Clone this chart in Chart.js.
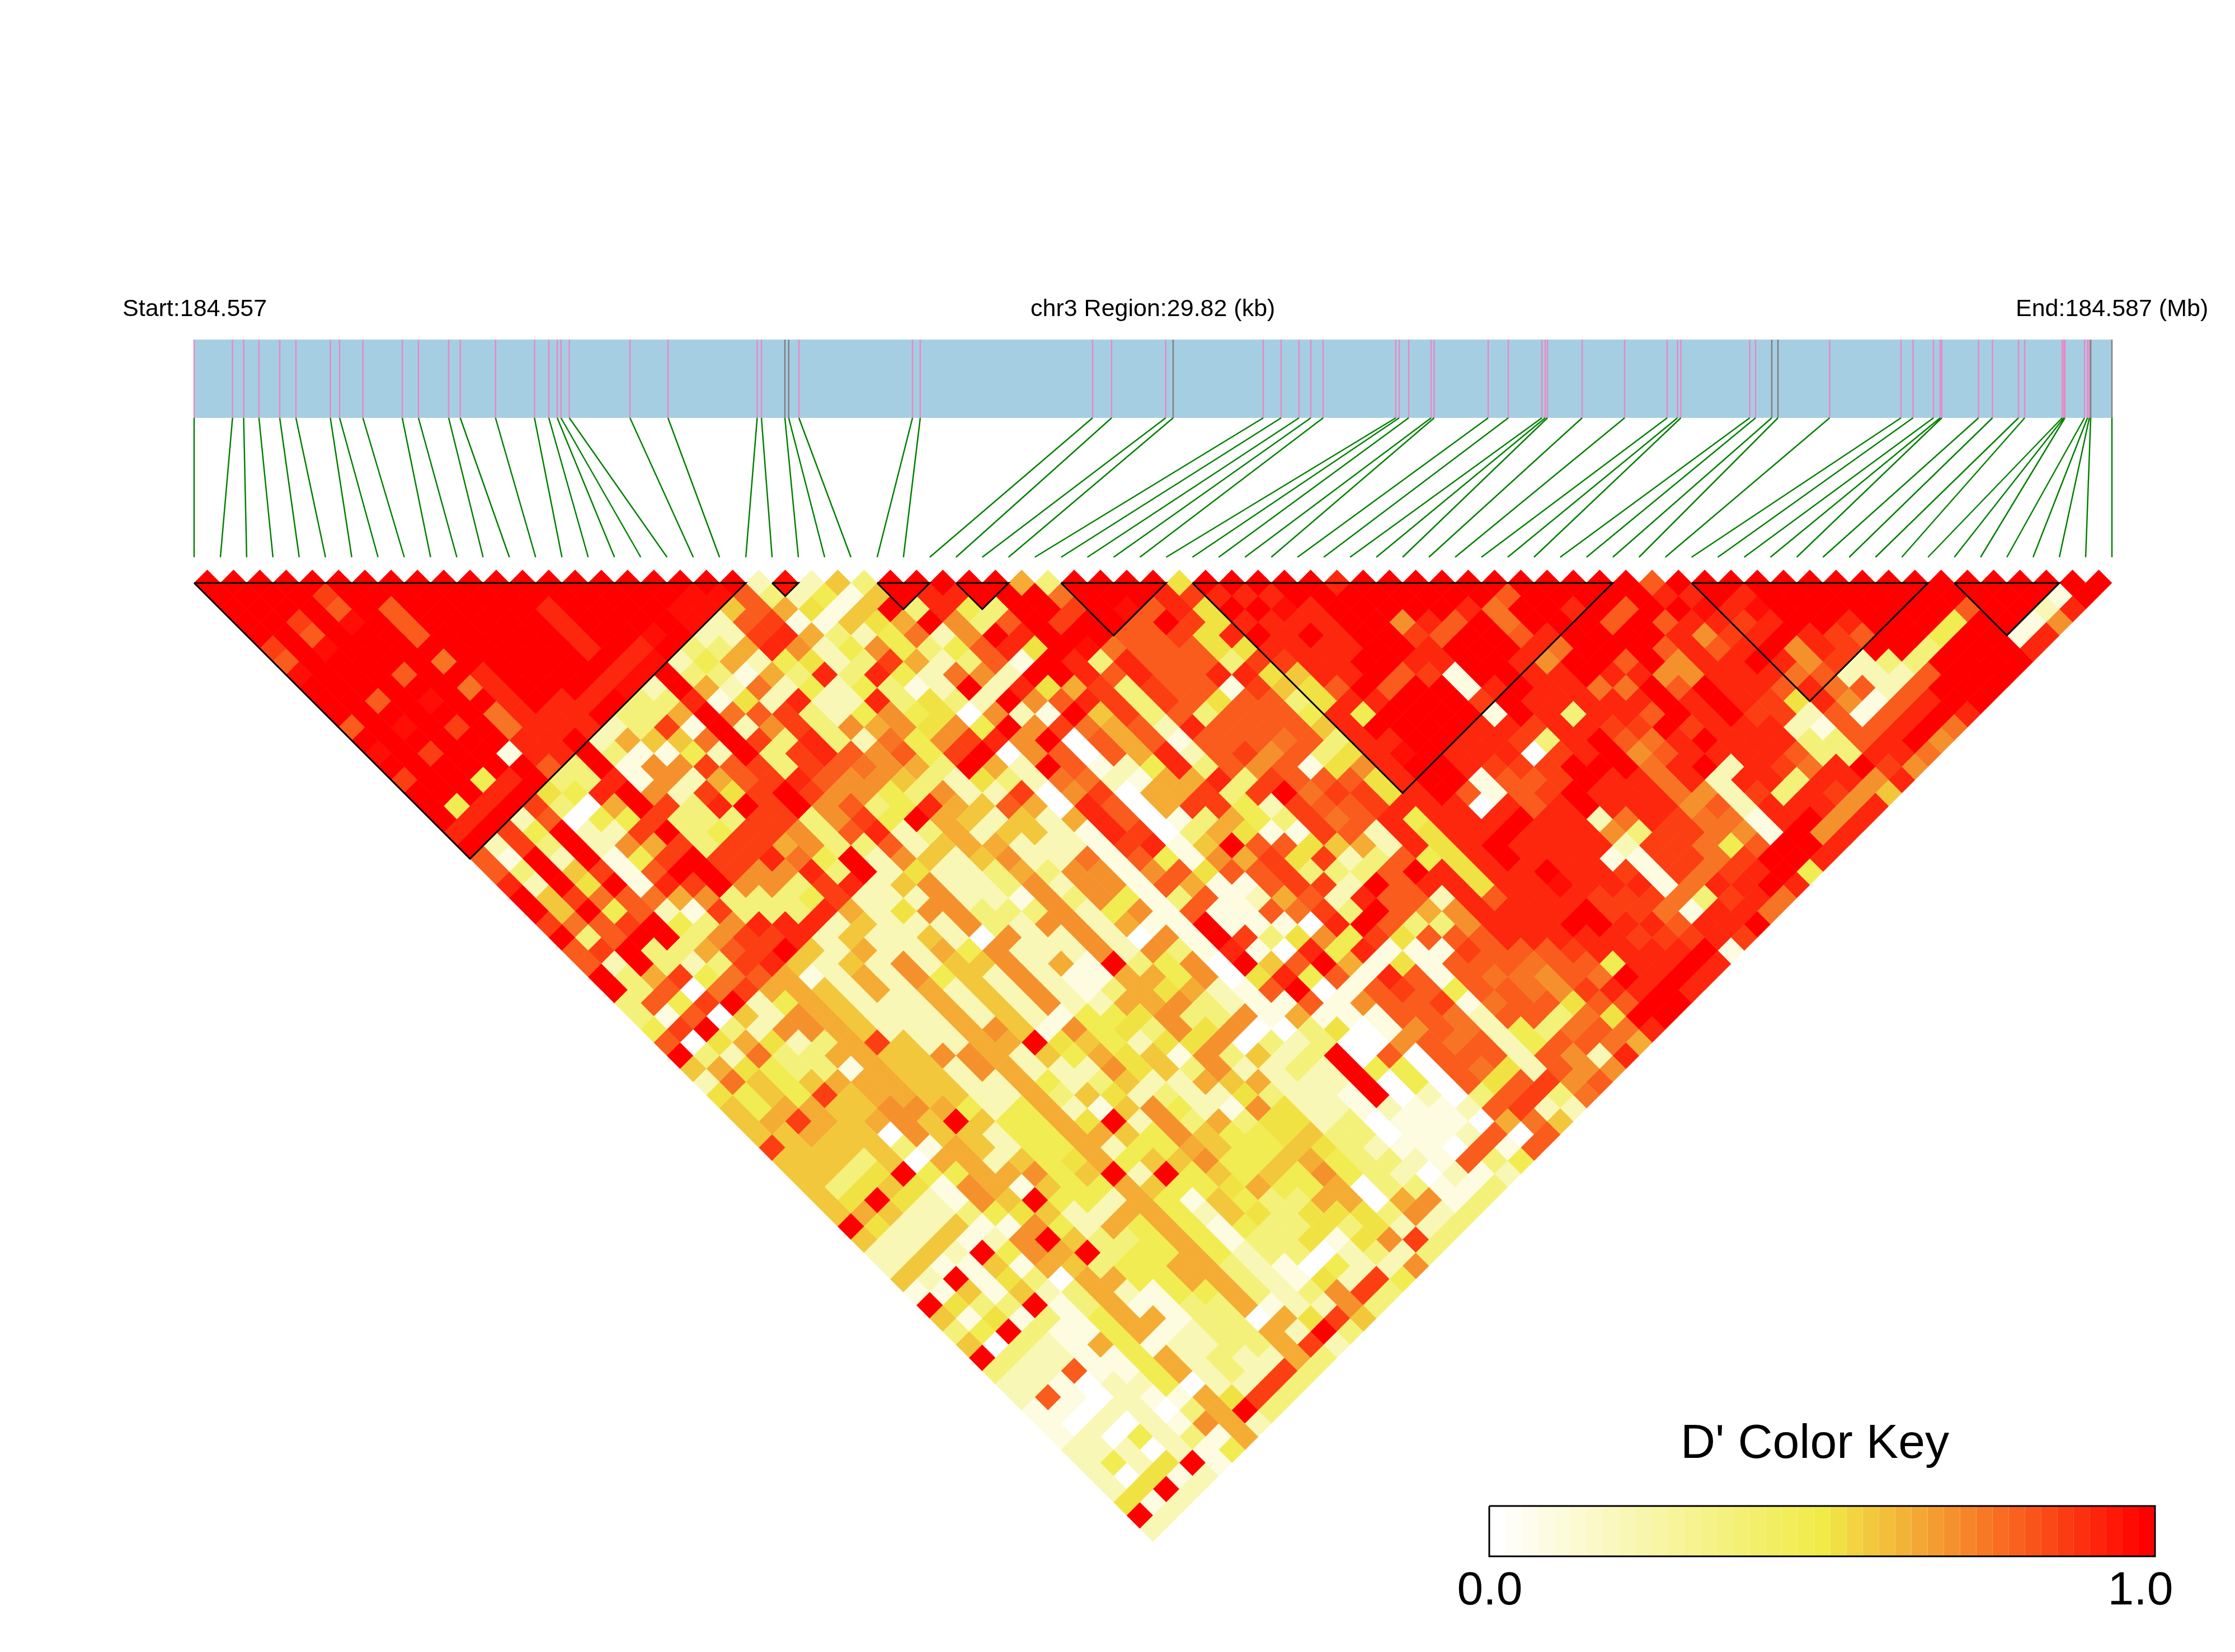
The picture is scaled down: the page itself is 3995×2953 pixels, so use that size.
<!DOCTYPE html>
<html>
<head>
<meta charset="utf-8">
<title>LD heatmap</title>
<script src="https://cdn.jsdelivr.net/npm/chart.js@4"></script>
<style>
  body { margin: 0; background: #fff; }
  canvas { display: block; }
</style>
</head>
<body>
<canvas id="myChart" width="3995" height="2953"></canvas>
<script>
// SNP positions along the region, in kb from the start
const snpKb = [
  0, 0.597, 0.77, 1.008, 1.331, 1.583, 2.118, 2.262, 2.624, 3.236, 3.488, 3.958, 4.138, 4.686, 5.292,
  5.515, 5.646, 5.704, 5.834, 6.777, 7.368, 8.755, 8.821, 9.186, 9.245, 9.404, 11.17, 11.291, 13.97,
  14.266, 15.107, 15.223, 16.624, 16.902, 17.18, 17.363, 17.555, 18.685, 18.738, 18.885, 19.234, 19.281,
  20.121, 20.434, 20.956, 21.008, 21.043, 21.582, 22.243, 22.904, 23.065, 23.117, 24.188, 24.279, 24.531,
  24.627, 25.431, 26.54, 26.727, 27.045, 27.149, 27.175, 27.746, 27.963, 28.367, 28.463, 29.046, 29.072,
  29.089, 29.394, 29.44, 29.469, 29.49, 29.82,
];
const greySnps = [23, 24, 31, 54, 55, 72, 73];
const regionKb = 29.82;

// haplotype blocks, as first and last SNP
const blockStart = [0, 22, 26, 29, 33, 38, 57, 67];
const blockEnd = [21, 23, 28, 31, 37, 54, 66, 71];

// D' level codes and what they stand for
const levelCodes = "0123456789abcde";
const levelValues = [0, 0.08, 0.2, 0.36, 0.47, 0.52, 0.58, 0.64, 0.7, 0.76, 0.81, 0.87, 0.92, 0.97, 1];

// D': one string per row of the triangle, from the top row down
const dprimeRows = [
  "eeeee eeeee eeeee eeeee e2d26 3eeee e73ee ee5ee eeece eeeee eeeee aeeee eeeee eeeee eee",
  "eeeeb eeeee eeeee eeedd a3241 6ecce ee9ee ecbcc ceeee eeeea eeeee ccece eeeee eeeee 1e",
  "eeeea eaeee eecee eedd6 a7516 e3c43 eebed ac5ee dceee eec9e eceae edcde eeeee eaee2 c",
  "eebed eaeee eecee eed2a b1165 7e83a ebeea eb5cc ccee8 cae9e eeaea ccbce eceee 4ee18",
  "eeaee eaeee eecee de22b c7324 928ec eeeaa b5cec eceeb aeeac eeeec 8bcec baee4 ee1c",
  "bedee eeeee eecec e337c 82484 34ac5 ed9aa a55cc cceec eeec9 eeeac ace8c bee3e eec",
  "aeeee e9eee eeecd 24724 523b7 23a1e c3caa a3bbc ceecc eec8e eae8c cec8b 233ee ee",
  "deeea eecee eecde 33173 c3c42 982ee cacaa cc56c ceab1 eecce cc88c cc9a2 22aee e",
  "eeeee e9cee ecd2e 72924 24312 e2c57 b3baa 1b65a eaee1 cecc9 9eaec cac9a 2aeee",
  "eeaed eecec ce33c 152c2 2c353 2e8ac b3ba5 aa35c ceeeb ecccc cecec b5c81 acee",
  "eeeee e9ccc e337e 9ab32 48450 821e6 b3a3a aa4c4 eeee1 ec3cc aeceb b2a1a cec",
  "aedeb e9ccc 23b1e 28b38 78584 e8b97 a2caa aa6ce eeecc bccbb ebccc 21aac e9",
  "eeeee ecce2 7669e b3c32 948bc 8e0a7 a1aaa 9a3cc eeccb 3cea9 ceccc 33ace 8",
  "debee 1cce3 1142e 3bca8 a4be0 8a0a7 c2ab8 a35cd eccc0 bce8a cccca 33cc9",
  "eeeee ea3e1 88bab 3ba98 73e72 ea124 c3a8a 158ce ecbbb eee9c e2cb9 ceb8",
  "bee4c e33c1 827ab ca886 32532 99217 7c3ba aa5ce e1aab ecc9c 2cc3c c8c",
  "eeece 54ce8 2b5be b8843 822b0 8b077 b3be9 bb5ce a1abe ccc98 2b3cb 86",
  "e4ceb 307eb 3cebe 8a34c 76a70 ca07b b42ba abccc 0cace ccc8a 2ccc8 c",
  "ece2a 044b3 33bb3 8b4e7 62627 ca013 743b9 ac4cc cecc2 9cb99 1ce8c",
  "ceb4e 22be3 4bb83 ac237 26621 cb037 511ba 2c5cc eccc8 3bb98 1e8c",
  "e2b3e 287b3 bb783 3a267 72221 bc16e aa567 2c5ce cccc2 bb94a eec",
  "a1e2e 14beb bc94e 28626 82291 a4187 b5b23 a45ce ccc11 bb9be ec",
  "a3e6b 1aeeb 88c3e 25223 73881 8a5aa b333a ec5cc eccb1 b9bce 4",
  "c2e5e 1cbe8 83bc2 68223 82881 a711a bb2ea cc5cc dccc1 9ccec",
  "e6b9a 97833 34b22 28221 83841 3a127 a2caa 2cacc cbbb9 3bc9",
  "e6e4a 21b33 3c725 88333 82481 a11a9 b3ea7 8cccc ebb91 cc9",
  "b9abe 438cc c2622 28328 82711 e1110 cea33 8ccce eccac ce",
  "e3aee 38bbc 26226 20822 82081 eb358 4b5aa acccc cbbbc b",
  "abe33 7abe6 27227 48222 82831 c10c4 c111b aaabc ccce1",
  "a2e32 3bc62 62826 68271 e3480 e6ae7 151aa a9aa4 ccec",
  "e37b4 9a712 72846 28211 77480 5c4a1 ca1a9 98a9e cec",
  "e3a09 b7762 72726 28213 75721 ae01a ba4aa 98bcc ec",
  "3a4be 24762 22726 28227 78321 1a18a ab19a a5aae e",
  "31a06 28762 22726 21445 83381 7111a a92aa 395ee",
  "4be32 88762 22786 18453 85800 35018 a9243 9a9c",
  "a0575 237b6 2277e 56425 58032 3008a 9a24a a97",
  "e3293 37766 88726 47561 83623 e0a0a aa2a8 2c",
  "67543 31766 28722 28563 82232 e440a 952a8 8",
  "29646 77766 22742 36227 67222 e040a 5ab8a",
  "5464b 67766 22736 52322 53221 e0203 ab39",
  "64776 68874 24721 68421 85221 2112a b22",
  "67b76 786e6 4475e 28373 55230 11107 96",
  "66766 08662 44776 48644 56330 112a0 a",
  "b6666 31762 44724 47644 65321 10a1a",
  "66636 07726 45746 68446 74332 1a34",
  "6635e 44778 46e2e 46464 84320 212",
  "63565 18716 44764 45744 70331 13",
  "65e52 186e4 42741 64337 70781 3",
  "67622 34562 27742 65355 53823",
  "e5226 11842 74741 43353 5223",
  "62261 28e63 34741 33515 8b3",
  "2262e 487e3 44742 33023 23",
  "26116 17634 47732 10422 8",
  "62e15 30774 47732 152b4",
  "11616 23721 44732 38b3",
  "e533e 13711 33712 283",
  "61513 14771 33075 b6",
  "34e31 14712 3372e 3",
  "60321 74122 337b2",
  "e3221 14723 2273",
  "322a1 14723 2b3",
  "22102 24022 b3",
  "2a102 1175b 3",
  "11022 037e3",
  "10202 1872",
  "12042 317",
  "22202 14",
  "2425e 1",
  "20512",
  "25e2",
  "512",
  "e2",
  "2",
];

// page geometry
const PAGE_W = 3995;
const PAGE_H = 2953;
const LEFT = 347;
const RIGHT = 3775;
const STEP = (RIGHT - LEFT) / (snpKb.length - 1);
const ROW_TOP = 1042;
const BAR_TOP = 607;
const BAR_BOTTOM = 747;
const LINK_BOTTOM = 996;
const KEY_LEFT = 2662;
const KEY_RIGHT = 3852;
const KEY_TOP = 2692;
const KEY_BOTTOM = 2782;

function mix(a, b, f) {
  return a.map((v, i) => Math.round(v + (b[i] - v) * f));
}

function heatColor(v) {
  let rgb;
  if (v <= 0.5) rgb = mix([255, 255, 255], [240, 235, 70], v / 0.5);
  else if (v <= 0.7) rgb = mix([240, 235, 70], [245, 145, 45], (v - 0.5) / 0.2);
  else rgb = mix([245, 145, 45], [255, 0, 0], (v - 0.7) / 0.3);
  return `rgb(${rgb.join(",")})`;
}

const snpX = (i) => LEFT + i * STEP;
const kbX = (kb) => LEFT + (kb / regionKb) * (RIGHT - LEFT);
const gap = { x: NaN, y: NaN };

// triangle cells
const cellPoints = [];
const cellColors = [];
dprimeRows.forEach((raw, k) => {
  const row = raw.replace(/ /g, "");
  [...row].forEach((code, t) => {
    if (t + k > snpKb.length - 2) return;
    cellPoints.push({ x: (snpX(t) + snpX(t + k + 1)) / 2, y: ROW_TOP + (k * STEP) / 2 });
    cellColors.push(heatColor(levelValues[levelCodes.indexOf(code)]));
  });
});

const pinkTicks = [];
const greyTicks = [];
const links = [];
snpKb.forEach((kb, i) => {
  const target = greySnps.includes(i) ? greyTicks : pinkTicks;
  target.push({ x: kbX(kb), y: BAR_TOP }, { x: kbX(kb), y: BAR_BOTTOM }, gap);
  links.push({ x: kbX(kb), y: BAR_BOTTOM }, { x: snpX(i), y: LINK_BOTTOM }, gap);
});

const blockLines = [];
blockStart.forEach((a, i) => {
  const xa = snpX(a);
  const xb = snpX(blockEnd[i]);
  blockLines.push(
    { x: xa, y: ROW_TOP },
    { x: xb, y: ROW_TOP },
    { x: (xa + xb) / 2, y: ROW_TOP + (xb - xa) / 2 },
    { x: xa, y: ROW_TOP },
    gap
  );
});

// colour key bands
const keyBands = 41;
const keyPoints = [];
const keyColors = [];
for (let i = 0; i <= keyBands; i++) {
  keyPoints.push({ x: KEY_LEFT + ((KEY_RIGHT - KEY_LEFT) * i) / keyBands, y: (KEY_TOP + KEY_BOTTOM) / 2 });
  keyColors.push(heatColor(i / (keyBands - 1)));
}

const lineSet = (data, color, width, extra) => ({
  type: "scatter",
  data,
  showLine: true,
  borderColor: color,
  borderWidth: width,
  borderCapStyle: "butt",
  borderJoinStyle: "miter",
  pointRadius: 0,
  spanGaps: false,
  tension: 0,
  ...extra,
});

const labels = [
  { text: "Start:184.557", x: 219, y: 565, size: 43, align: "left" },
  { text: "chr3 Region:29.82 (kb)", x: 1842, y: 565, size: 43, align: "left" },
  { text: "End:184.587 (Mb)", x: 3603, y: 565, size: 43, align: "left" },
  { text: "D' Color Key", x: 3004, y: 2606, size: 86, align: "left" },
  { text: "0.0", x: 2663, y: 2868, size: 84, align: "center" },
  { text: "1.0", x: 3826, y: 2868, size: 84, align: "center" },
];

const textPlugin = {
  id: "pageText",
  afterDraw(chart) {
    const ctx = chart.ctx;
    ctx.save();
    ctx.fillStyle = "#000";
    ctx.textBaseline = "alphabetic";
    labels.forEach((l) => {
      ctx.font = `${l.size}px "Liberation Sans"`;
      ctx.textAlign = l.align;
      ctx.fillText(l.text, l.x, l.y);
    });
    ctx.restore();
  },
};

new Chart(document.getElementById("myChart"), {
  type: "scatter",
  plugins: [textPlugin],
  data: {
    datasets: [
      lineSet(blockLines, "#000", 3),
      lineSet(
        [
          { x: KEY_LEFT, y: KEY_TOP },
          { x: KEY_RIGHT, y: KEY_TOP },
          { x: KEY_RIGHT, y: KEY_BOTTOM },
          { x: KEY_LEFT, y: KEY_BOTTOM },
          { x: KEY_LEFT, y: KEY_TOP },
        ],
        "#000",
        3
      ),
      lineSet(keyPoints, "#fff", KEY_BOTTOM - KEY_TOP, {
        segment: { borderColor: (c) => keyColors[c.p0DataIndex] },
      }),
      lineSet(links, "#008000", 2.5),
      lineSet(greyTicks, "#808080", 2.5),
      lineSet(pinkTicks, "#E78AC3", 2.5),
      lineSet(
        [
          { x: LEFT, y: (BAR_TOP + BAR_BOTTOM) / 2 },
          { x: RIGHT, y: (BAR_TOP + BAR_BOTTOM) / 2 },
        ],
        "#A6CEE3",
        BAR_BOTTOM - BAR_TOP
      ),
      {
        type: "scatter",
        data: cellPoints,
        pointStyle: "rectRot",
        pointRadius: STEP / 2 + 0.3,
        pointBackgroundColor: cellColors,
        pointBorderWidth: 0,
        borderWidth: 0,
      },
    ],
  },
  options: {
    responsive: false,
    animation: false,
    devicePixelRatio: 1,
    layout: { padding: 0, autoPadding: false },
    events: [],
    plugins: { legend: { display: false }, tooltip: { enabled: false }, title: { display: false } },
    scales: {
      x: { type: "linear", display: false, min: 0, max: PAGE_W },
      y: { type: "linear", display: false, min: 0, max: PAGE_H, reverse: true },
    },
  },
});
</script>
</body>
</html>
